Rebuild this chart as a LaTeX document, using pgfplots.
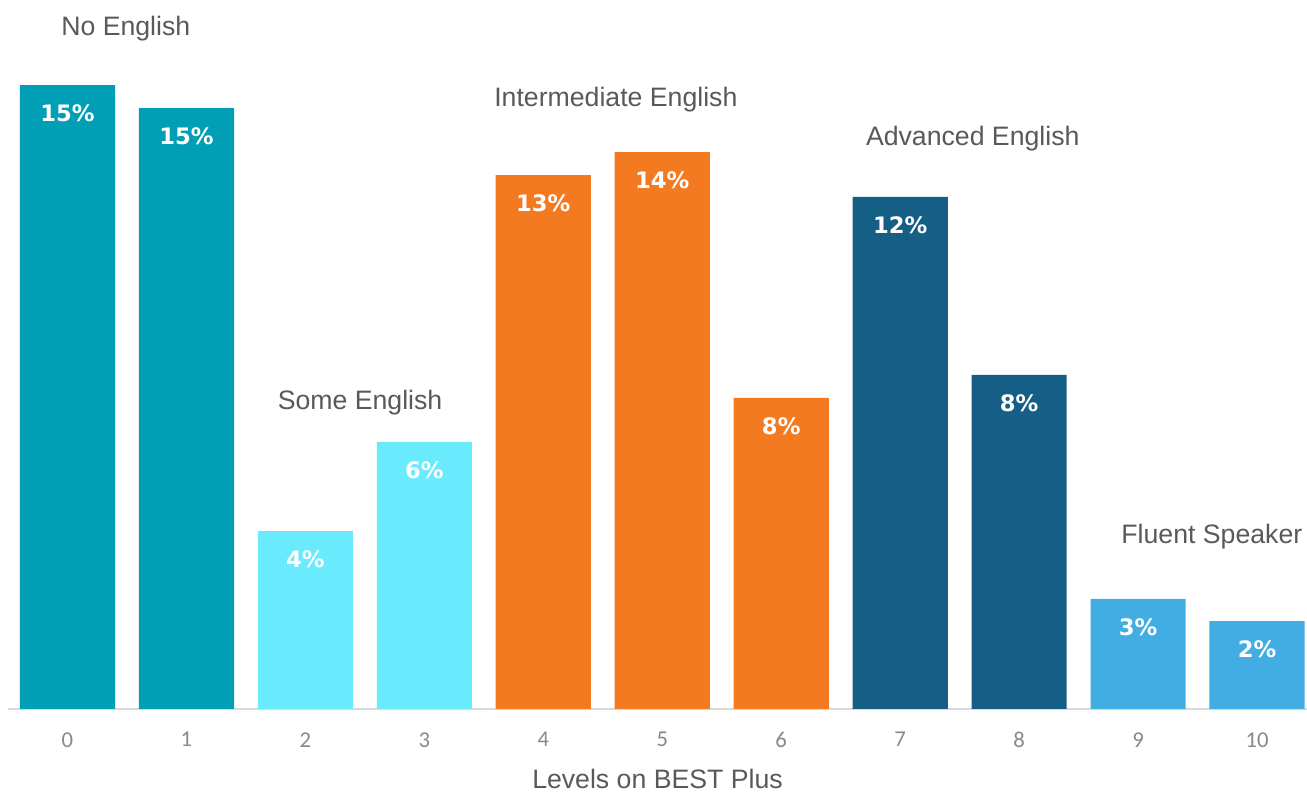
\documentclass[border=0pt]{standalone}
\usepackage{pgfplots}
\pgfplotsset{compat=1.18}
\usepackage{fontspec}
\setmainfont{Liberation Sans}
\newfontfamily\barfont{DejaVu Sans}
\newfontfamily\tickfont{Carlito}
\definecolor{cteal}{HTML}{009FB5}
\definecolor{ccyan}{HTML}{6AEBFD}
\definecolor{corange}{HTML}{F47A22}
\definecolor{cdark}{HTML}{155F86}
\definecolor{clight}{HTML}{42ADE2}
\definecolor{ctext}{HTML}{595959}
\definecolor{ctick}{HTML}{8C8885}
\definecolor{cline}{HTML}{D9D9D9}
\begin{document}
\begin{tikzpicture}
\useasboundingbox (-6pt,-62.25pt) rectangle (974.25pt,531.75pt);
\begin{axis}[
  at={(0,0)}, anchor=south west,
  scale only axis, width=974.25pt, height=531.75pt,
  xmin=-0.5, xmax=10.42, ymin=0, ymax=17.25,
  axis x line*=bottom, axis y line=none,
  x axis line style={-, draw=cline, line width=1.2pt},
  xtick={0,1,2,3,4,5,6,7,8,9,10},
  major tick length=0pt,
  /pgf/number format/assume math mode=true,
  xticklabel style={font=\tickfont\fontsize{17}{17}\selectfont, text=ctick, yshift=-14pt},
  xlabel={Levels on BEST Plus},
  xlabel style={at={(axis description cs:0.5,0)}, anchor=center, yshift=-52.5pt, font=\fontsize{20}{20}\selectfont, text=ctext},
  clip=false,
  ybar, bar width=0.8,
  nodes near coords, point meta=explicit symbolic,
  every node near coord/.append style={font=\barfont\bfseries\fontsize{17}{17}\selectfont, text=white, anchor=center, yshift=-21pt},
]
\addplot[fill=cteal, draw=none, bar shift=0] coordinates {(0,15.18) [15\%] (1,14.62) [15\%]};
\addplot[fill=ccyan, draw=none, bar shift=0] coordinates {(2,4.33) [4\%] (3,6.50) [6\%]};
\addplot[fill=corange, draw=none, bar shift=0] coordinates {(4,12.99) [13\%] (5,13.55) [14\%] (6,7.57) [8\%]};
\addplot[fill=cdark, draw=none, bar shift=0] coordinates {(7,12.46) [12\%] (8,8.13) [8\%]};
\addplot[fill=clight, draw=none, bar shift=0] coordinates {(9,2.68) [3\%] (10,2.14) [2\%]};
\begin{scope}[every node/.style={font=\fontsize{20}{20}\selectfont, text=ctext}]
\node at (axis cs:0.49,16.55) {No English};
\node at (axis cs:2.46,7.45) {Some English};
\node at (axis cs:4.61,14.82) {Intermediate English};
\node at (axis cs:7.61,13.87) {Advanced English};
\node at (axis cs:9.62,4.19) {Fluent Speaker};
\end{scope}
\end{axis}
\end{tikzpicture}
\end{document}
